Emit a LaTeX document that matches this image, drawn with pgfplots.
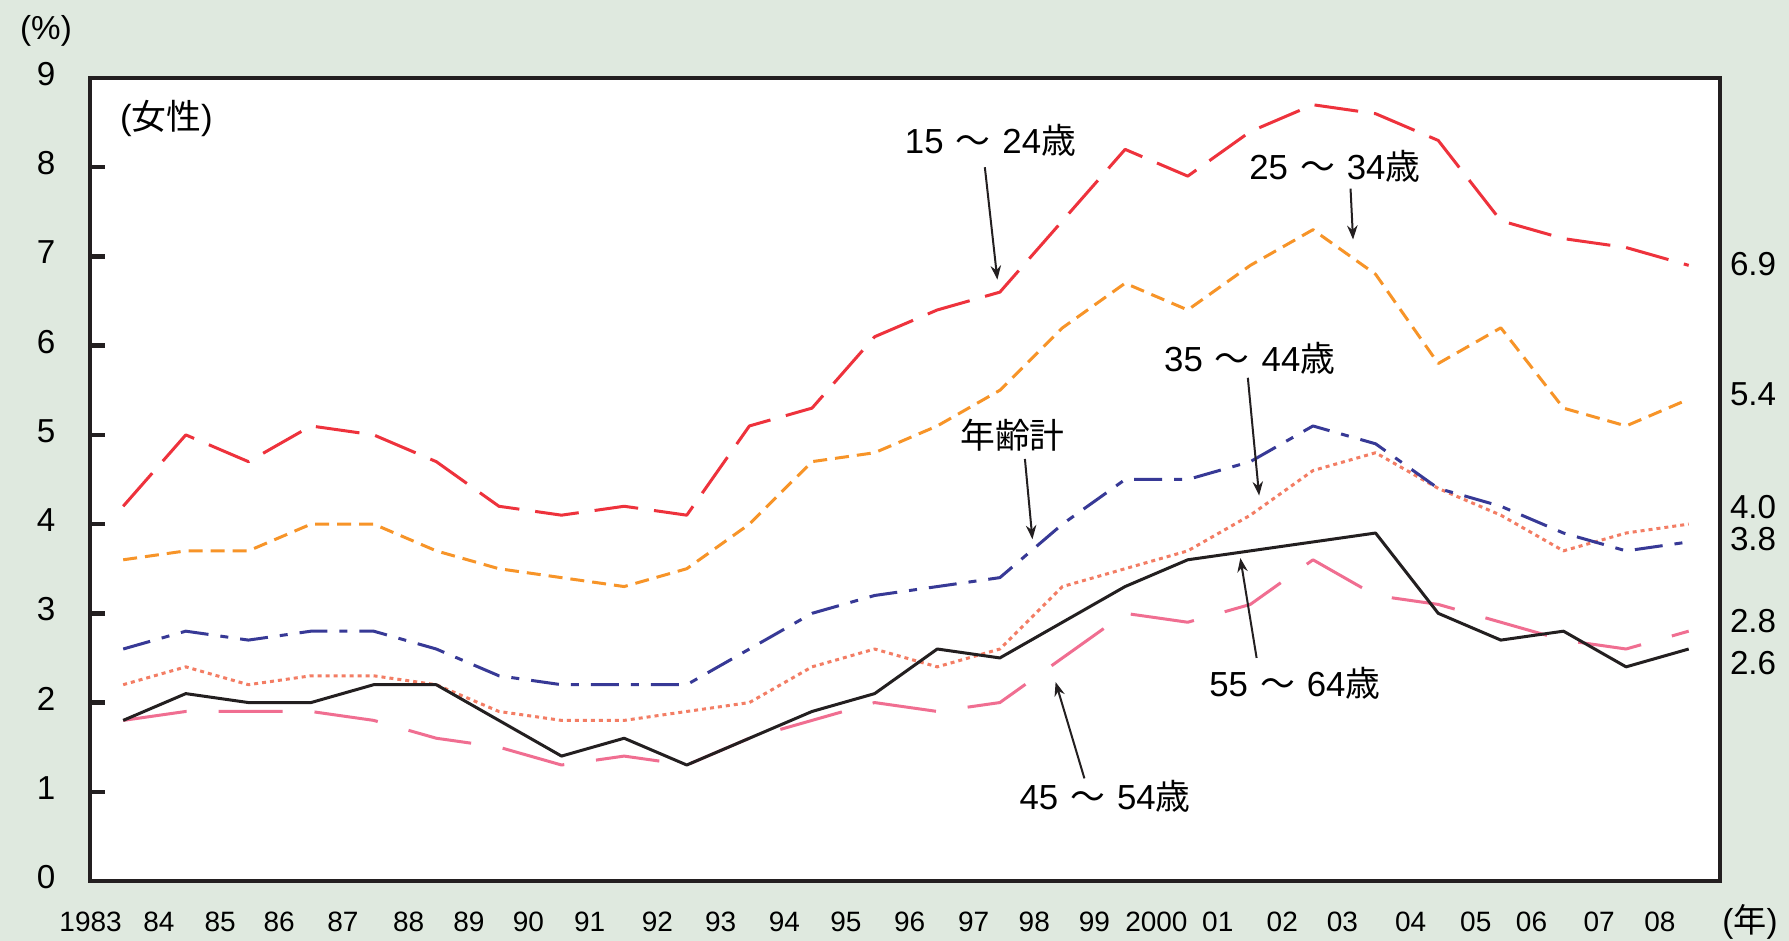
\documentclass[border=0pt]{standalone}
\usepackage{fontspec}
\setmainfont{Liberation Sans}
\newfontfamily\jp{Noto Sans CJK JP}
\usepackage{pgfplots}
\usepackage{pgfplotstable}
\pgfplotsset{compat=1.18}
\usetikzlibrary{arrows.meta,backgrounds}
\definecolor{bg}{RGB}{223,233,223}
\definecolor{frame}{RGB}{35,31,32}
\definecolor{c1524}{RGB}{238,50,60}
\definecolor{c2534}{RGB}{247,148,40}
\definecolor{c3544}{RGB}{243,125,100}
\definecolor{call}{RGB}{55,57,150}
\definecolor{c4554}{RGB}{240,110,145}
\definecolor{c5564}{RGB}{35,31,32}
\newcommand{\tck}{\fontsize{8.3}{9}\selectfont}
\newcommand{\lbl}{\fontsize{8.7}{10}\selectfont}
\pgfplotstableread{
year a b c t d e
1983 4.2 3.6 2.2 2.6 1.8 1.8
1984 5.0 3.7 2.4 2.8 1.9 2.1
1985 4.7 3.7 2.2 2.7 1.9 2.0
1986 5.1 4.0 2.3 2.8 1.9 2.0
1987 5.0 4.0 2.3 2.8 1.8 2.2
1988 4.7 3.7 2.2 2.6 1.6 2.2
1989 4.2 3.5 1.9 2.3 1.5 1.8
1990 4.1 3.4 1.8 2.2 1.3 1.4
1991 4.2 3.3 1.8 2.2 1.4 1.6
1992 4.1 3.5 1.9 2.2 1.3 1.3
1993 5.1 4.0 2.0 2.6 1.6 1.6
1994 5.3 4.7 2.4 3.0 1.8 1.9
1995 6.1 4.8 2.6 3.2 2.0 2.1
1996 6.4 5.1 2.4 3.3 1.9 2.6
1997 6.6 5.5 2.6 3.4 2.0 2.5
1998 7.4 6.2 3.3 4.0 2.5 2.9
1999 8.2 6.7 3.5 4.5 3.0 3.3
2000 7.9 6.4 3.7 4.5 2.9 3.6
2001 8.4 6.9 4.1 4.7 3.1 3.7
2002 8.7 7.3 4.6 5.1 3.6 3.8
2003 8.6 6.8 4.8 4.9 3.2 3.9
2004 8.3 5.8 4.4 4.4 3.1 3.0
2005 7.4 6.2 4.1 4.2 2.9 2.7
2006 7.2 5.3 3.7 3.9 2.7 2.8
2007 7.1 5.1 3.9 3.7 2.6 2.4
2008 6.9 5.4 4.0 3.8 2.8 2.6
}\data
\begin{document}
\begin{tikzpicture}
\begin{axis}[
  width=407.5pt, height=200.75pt, scale only axis,
  xmin=1982.47, xmax=2008.5, ymin=0, ymax=9,
  axis background/.style={fill=white},
  axis line style={line width=1.1pt, frame},
  ytick={0,...,9}, ytick pos=left, tick align=inside, major tick length=3.8pt,
  ytick style={line width=1.1pt, frame},
  xtick={1982.48,1983.57,1984.55,1985.49,1986.51,1987.56,1988.52,1989.47,1990.45,1991.53,1992.54,1993.56,1994.54,1995.56,1996.58,1997.55,1998.51,1999.5,2000.48,2001.51,2002.47,2003.56,2004.6,2005.49,2006.57,2007.54},
  xticklabels={1983,84,85,86,87,88,89,90,91,92,93,94,95,96,97,98,99,2000,01,02,03,04,05,06,07,08},
  xtick style={draw=none},
  yticklabel style={anchor=center, xshift=-11pt, yshift=1pt, font=\tck, inner sep=0pt},
  xticklabel style={anchor=center, yshift=-10.25pt, font=\fontsize{7}{8}\selectfont, inner sep=0pt},
  /pgf/number format/assume math mode=true,
  clip=false,
  every axis plot/.append style={line width=0.75pt, line join=round},
]
\addplot[c4554, dash pattern=on 16pt off 8pt] table[x=year,y=d]{\data};
\addplot[c3544, dash pattern=on 1pt off 1pt] table[x=year,y=c]{\data};
\addplot[call, dash pattern=on 7pt off 3pt on 2pt off 3pt] table[x=year,y=t]{\data};
\addplot[c2534, dash pattern=on 3.5pt off 2pt] table[x=year,y=b]{\data};
\addplot[c1524, dash pattern=on 11pt off 4pt] table[x=year,y=a]{\data};
\addplot[c5564, solid] table[x=year,y=e]{\data};

\node[font=\lbl, inner sep=0pt] at (axis cs:1983.69,8.55) {({\jp 女性})};
\node[font=\lbl, inner sep=0pt] at (axis cs:1996.85,8.3) {15\hspace{3pt}{\jp ～}\hspace{3pt}24{\jp 歳}};
\node[font=\lbl, inner sep=0pt] at (axis cs:2002.35,8.01) {25\hspace{3pt}{\jp ～}\hspace{3pt}34{\jp 歳}};
\node[font=\lbl, inner sep=0pt] at (axis cs:2000.99,5.86) {35\hspace{3pt}{\jp ～}\hspace{3pt}44{\jp 歳}};
\node[font=\lbl, inner sep=0pt] at (axis cs:1997.2,5.0) {{\jp 年齢計}};
\node[font=\lbl, inner sep=0pt] at (axis cs:2001.71,2.22) {55\hspace{3pt}{\jp ～}\hspace{3pt}64{\jp 歳}};
\node[font=\lbl, inner sep=0pt] at (axis cs:1998.68,0.95) {45\hspace{3pt}{\jp ～}\hspace{3pt}54{\jp 歳}};

\draw[frame, line width=0.5pt, -{Stealth[length=3.5pt,width=2.6pt]}] (axis cs:1996.76,8.0) -- (axis cs:1996.96,6.74);
\draw[frame, line width=0.5pt, -{Stealth[length=3.5pt,width=2.6pt]}] (axis cs:2002.6,7.76) -- (axis cs:2002.64,7.19);
\draw[frame, line width=0.5pt, -{Stealth[length=3.5pt,width=2.6pt]}] (axis cs:2000.96,5.64) -- (axis cs:2001.14,4.32);
\draw[frame, line width=0.5pt, -{Stealth[length=3.5pt,width=2.6pt]}] (axis cs:1997.4,4.73) -- (axis cs:1997.52,3.83);
\draw[frame, line width=0.5pt, -{Stealth[length=3.5pt,width=2.6pt]}] (axis cs:2001.1,2.5) -- (axis cs:2000.84,3.62);
\draw[frame, line width=0.5pt, -{Stealth[length=3.5pt,width=2.6pt]}] (axis cs:1998.35,1.15) -- (axis cs:1997.89,2.23);

\node[font=\tck, anchor=west, inner sep=0pt, xshift=2.3pt] at (axis cs:2008.5,6.92) {6.9};
\node[font=\tck, anchor=west, inner sep=0pt, xshift=2.3pt] at (axis cs:2008.5,5.45) {5.4};
\node[font=\tck, anchor=west, inner sep=0pt, xshift=2.3pt] at (axis cs:2008.5,4.19) {4.0};
\node[font=\tck, anchor=west, inner sep=0pt, xshift=2.3pt] at (axis cs:2008.5,3.83) {3.8};
\node[font=\tck, anchor=west, inner sep=0pt, xshift=2.3pt] at (axis cs:2008.5,2.91) {2.8};
\node[font=\tck, anchor=west, inner sep=0pt, xshift=2.3pt] at (axis cs:2008.5,2.44) {2.6};
\end{axis}
\node[font=\tck, inner sep=0pt] at ([xshift=-11pt,yshift=11.75pt]current axis.north west) {(\%)};
\node[font=\tck, inner sep=0pt] at ([xshift=7.5pt,yshift=-10.25pt]current axis.south east) {({\jp 年})};
\begin{scope}[on background layer]
\fill[bg] ([xshift=-22.5pt,yshift=-15pt]current axis.south west) rectangle ([xshift=17.25pt,yshift=19.5pt]current axis.north east);
\end{scope}
\end{tikzpicture}
\end{document}
